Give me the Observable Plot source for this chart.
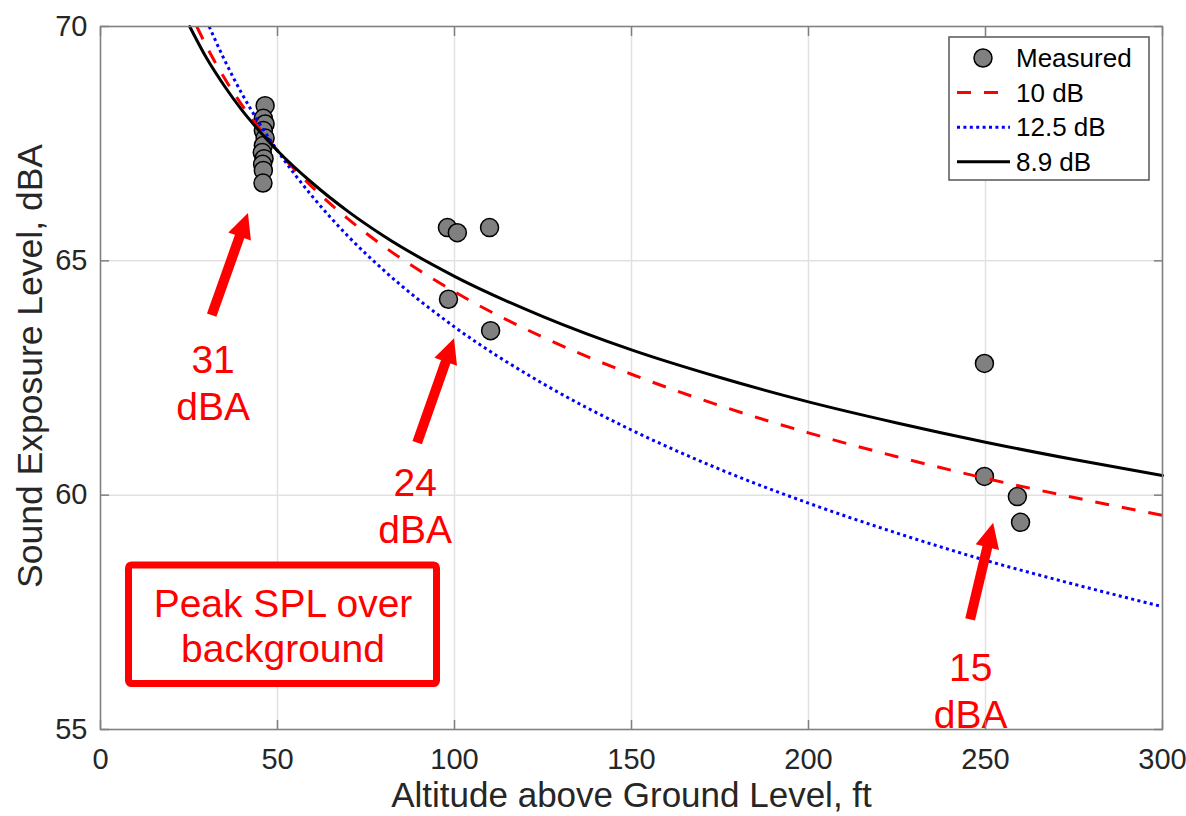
<!DOCTYPE html>
<html>
<head>
<meta charset="utf-8">
<script src="https://cdn.jsdelivr.net/npm/d3@7"></script>
<script src="https://cdn.jsdelivr.net/npm/@observablehq/plot@0.6"></script>
<style>
  html, body { margin: 0; padding: 0; background: #fff; }
  #chart svg { display: block; }
</style>
</head>
<body>
<div id="chart"></div>
<script>
// ---------- data ----------
const xTicks = [0, 50, 100, 150, 200, 250, 300];
const yTicks = [55, 60, 65, 70];

const measuredAlt = [46.5, 46.0, 46.5, 46.0, 46.5, 46.0, 45.7, 46.2, 45.8, 46.0, 45.9,
                     98.0, 100.8, 109.9, 98.3, 110.2,
                     249.7, 249.7, 259.0, 259.9];
const measuredSEL = [68.31, 68.04, 67.92, 67.78, 67.62, 67.46, 67.31, 67.18, 67.06, 66.93, 66.66,
                     65.71, 65.60, 65.71, 64.18, 63.51,
                     62.81, 60.40, 59.97, 59.42];

const alt10 = [27.2, 30, 35, 40, 45, 50, 60, 70, 80, 100, 125, 150, 175, 200, 225, 250, 275, 300];
const sel10 = [70.0, 69.57, 68.90, 68.32, 67.81, 67.35, 66.56, 65.89, 65.31, 64.34, 63.37, 62.58, 61.91, 61.33, 60.82, 60.36, 59.95, 59.57];

const alt125 = [30.7, 35, 40, 45, 50, 60, 70, 80, 100, 125, 150, 175, 200, 225, 250, 275, 300];
const sel125 = [70.0, 69.29, 68.56, 67.92, 67.35, 66.36, 65.52, 64.80, 63.59, 62.38, 61.39, 60.55, 59.83, 59.19, 58.61, 58.10, 57.62];

const alt89 = [25.2, 30, 35, 40, 45, 50, 60, 70, 80, 100, 125, 150, 175, 200, 225, 250, 275, 300];
const sel89 = [70.0, 69.32, 68.73, 68.21, 67.76, 67.35, 66.65, 66.05, 65.53, 64.67, 63.81, 63.10, 62.51, 61.99, 61.54, 61.13, 60.76, 60.42];

const seriesNames = ["Measured", "10 dB", "12.5 dB", "8.9 dB"];

// annotations (data units)
const noteText = ["31\ndBA", "24\ndBA", "15\ndBA"];
const noteX = [31.8, 88.9, 245.8];
const noteY = [62.43, 59.80, 55.85];
const arrowX1 = [31.55, 89.6, 245.8];
const arrowY1 = [63.83, 61.11, 57.34];
const arrowX2 = [41.8, 100.0, 252.3];
const arrowY2 = [66.01, 63.34, 59.40];
const boxText = ["Peak SPL over\nbackground"];
const boxX = [51.55], boxY = [57.22];
const boxX1 = [8.05], boxX2 = [95.06], boxY1 = [58.50], boxY2 = [55.97];

const xTitle = "Altitude above Ground Level, ft";
const yTitle = "Sound Exposure Level, dBA";

// ---------- styling ----------
const FONT = "'Liberation Sans', Arial, Helvetica, sans-serif";
const INK = "#262626";
const AXIS = "#808080";
const GRID = "#e1e1e1";
const RED = "#ff0000", BLUE = "#0000ff", BLACK = "#000000";
const DASH10 = "14,13", DOT125 = "3,3.4";

const plot = Plot.plot({
  width: 1186,
  height: 816,
  marginTop: 26,
  marginRight: 24,
  marginBottom: 87,
  marginLeft: 100,
  style: {fontFamily: FONT, background: "#fff", overflow: "visible"},
  x: {domain: [0, 300]},
  y: {domain: [55, 70]},
  marks: [
    Plot.gridX(xTicks, {stroke: GRID, strokeOpacity: 1, strokeWidth: 1.5}),
    Plot.gridY(yTicks, {stroke: GRID, strokeOpacity: 1, strokeWidth: 1.5}),
    Plot.rect(boxX1, {x1: boxX1, x2: boxX2, y1: boxY1, y2: boxY2, fill: "#fff", stroke: RED, strokeWidth: 7, rx: 3}),
    Plot.text(boxText, {x: boxX, y: boxY, text: d => d, fill: RED, fontSize: 39, lineHeight: 1.154}),
    Plot.text(noteText, {x: noteX, y: noteY, text: d => d, fill: RED, fontSize: 39, lineHeight: 1.2}),
    Plot.dot(measuredAlt, {x: measuredAlt, y: measuredSEL, r: 9, fill: "#808080", stroke: "#000", strokeWidth: 1.5}),
    Plot.line(alt10, {x: alt10, y: sel10, stroke: RED, strokeWidth: 3, strokeDasharray: DASH10, strokeLinecap: "butt", curve: "monotone-x"}),
    Plot.line(alt125, {x: alt125, y: sel125, stroke: BLUE, strokeWidth: 3, strokeDasharray: DOT125, strokeLinecap: "butt", curve: "monotone-x"}),
    Plot.line(alt89, {x: alt89, y: sel89, stroke: BLACK, strokeWidth: 3, curve: "monotone-x"}),
    Plot.frame({stroke: AXIS, strokeWidth: 1.5}),
    Plot.axisX(xTicks, {anchor: "bottom", tickSize: -9, tickFormat: () => "", stroke: AXIS, strokeWidth: 1.5, label: null}),
    Plot.axisX(xTicks, {anchor: "top", tickSize: -9, tickFormat: () => "", stroke: AXIS, strokeWidth: 1.5, label: null}),
    Plot.axisY(yTicks, {anchor: "left", tickSize: -9, tickFormat: () => "", stroke: AXIS, strokeWidth: 1.5, label: null}),
    Plot.axisY(yTicks, {anchor: "right", tickSize: -9, tickFormat: () => "", stroke: AXIS, strokeWidth: 1.5, label: null}),
    Plot.axisX(xTicks, {anchor: "bottom", tickSize: 0, tickPadding: 19, fontSize: 29, color: INK, label: null}),
    Plot.axisY(yTicks, {anchor: "left", tickSize: 0, tickPadding: 13, fontSize: 29, color: INK, label: null}),
    Plot.text([xTitle], {frameAnchor: "bottom", textAnchor: "middle", dy: 77, fontSize: 35, fill: INK, text: d => d}),
    Plot.text([yTitle], {frameAnchor: "left", textAnchor: "middle", dx: -70, dy: -12, rotate: -90, fontSize: 35.5, fill: INK, text: d => d})
  ]
});

document.getElementById("chart").appendChild(plot);

// ---------- arrows with filled heads, positioned through Plot's scales ----------
const sx = plot.scale("x"), sy = plot.scale("y");
const fx = sx.apply ? (v => sx.apply(v)) : d3.scaleLinear(sx.domain, sx.range);
const fy = sy.apply ? (v => sy.apply(v)) : d3.scaleLinear(sy.domain, sy.range);
const svg = d3.select(plot);
const ag = svg.append("g").attr("class", "arrows");
arrowX1.forEach((_, i) => {
  const x1 = fx(arrowX1[i]), y1 = fy(arrowY1[i]);
  const x2 = fx(arrowX2[i]), y2 = fy(arrowY2[i]);
  const dx = x2 - x1, dy = y2 - y1, L = Math.hypot(dx, dy);
  const ux = dx / L, uy = dy / L;
  const hl = 25, hw = 12;
  const bx = x2 - ux * hl, by = y2 - uy * hl;
  ag.append("line")
    .attr("x1", x1).attr("y1", y1)
    .attr("x2", bx + ux * 2).attr("y2", by + uy * 2)
    .attr("stroke", RED).attr("stroke-width", 10);
  ag.append("path")
    .attr("d", `M${x2},${y2}L${bx - uy * hw},${by + ux * hw}L${bx + uy * hw},${by - ux * hw}Z`)
    .attr("fill", RED);
});

// ---------- legend box (top-right, inside the axes) ----------
const W = 1186, MR = 24, MT = 26;
const lw = 200, lh = 143;
const lx = W - MR - 13 - lw, ly = MT + 11;
const lg = svg.append("g").attr("class", "legend")
  .attr("font-family", FONT).attr("text-anchor", "start");
lg.append("rect").attr("x", lx).attr("y", ly).attr("width", lw).attr("height", lh)
  .attr("fill", "#fff").attr("stroke", "#555").attr("stroke-width", 1.5);
const rowY = i => ly + 21 + i * 34.6;
const styles = [null,
  {stroke: RED, dash: DASH10, w: 3},
  {stroke: BLUE, dash: DOT125, w: 3},
  {stroke: BLACK, dash: null, w: 3}];
seriesNames.forEach((name, i) => {
  const y = rowY(i);
  if (i === 0) {
    lg.append("circle").attr("cx", lx + 34).attr("cy", y).attr("r", 9)
      .attr("fill", "#808080").attr("stroke", "#000").attr("stroke-width", 1.5);
  } else {
    const s = styles[i];
    const ln = lg.append("line").attr("x1", lx + 8).attr("x2", lx + 61).attr("y1", y).attr("y2", y)
      .attr("stroke", s.stroke).attr("stroke-width", s.w);
    if (s.dash) ln.attr("stroke-dasharray", s.dash);
  }
  lg.append("text").attr("x", lx + 67).attr("y", y).attr("dy", "0.35em")
    .attr("text-anchor", "start")
    .attr("font-size", 26).attr("fill", "#000").text(name);
});
</script>
</body>
</html>
